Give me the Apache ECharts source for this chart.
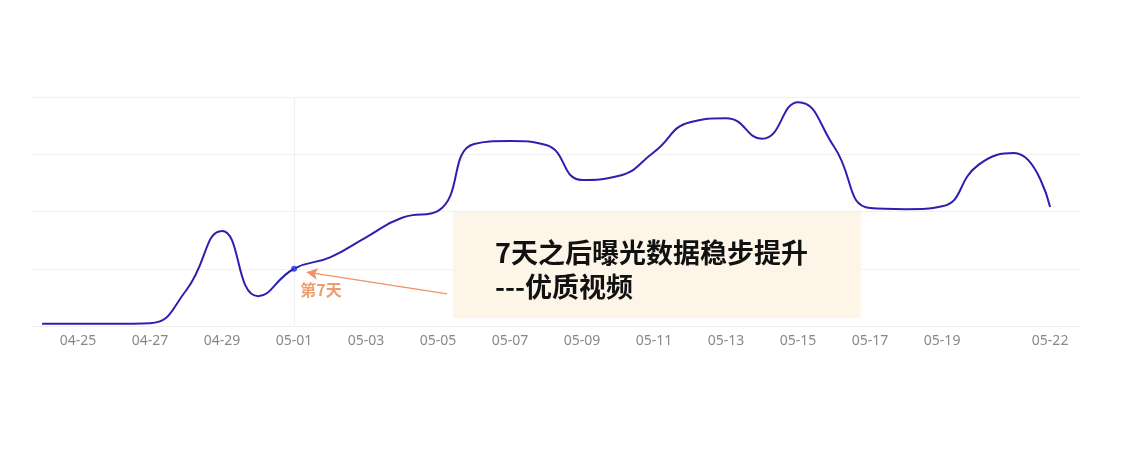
<!DOCTYPE html>
<html>
<head>
<meta charset="utf-8">
<script src="https://cdn.jsdelivr.net/npm/echarts@6/dist/echarts.min.js"></script>
<style>
  html, body { margin: 0; padding: 0; background: #fff; }
  #chart { width: 1128px; height: 451px; }
</style>
</head>
<body>
<div id="chart"></div>
<script>
// daily exposure, 04-24 .. 05-22
const days = ['04-24', '04-25', '04-26', '04-27', '04-28', '04-29', '04-30',
  '05-01', '05-02', '05-03', '05-04', '05-05', '05-06', '05-07', '05-08',
  '05-09', '05-10', '05-11', '05-12', '05-13', '05-14', '05-15', '05-16',
  '05-17', '05-18', '05-19', '05-20', '05-21', '05-22']
const values = [4, 4, 4, 5, 62, 166, 52,
  100, 120, 155, 189, 201, 318, 323, 316,
  255, 262, 304, 356, 363, 327, 391, 313,
  206, 204, 209, 281, 302, 208]
// which dates get a tick label
const shownLabels = ['04-25', '04-27', '04-29', '05-01', '05-03', '05-05', '05-07',
  '05-09', '05-11', '05-13', '05-15', '05-17', '05-19', '05-22']
const markDay = '05-01'
const markText = '第7天'
const noteLines = ['7天之后曝光数据稳步提升', '---优质视频']

const markIdx = days.indexOf(markDay)
const lineData = days.map((d, i) => [i, values[i]])

let chart = echarts.init(document.getElementById('chart'))
chart.setOption({
  animation: false,
  grid: { left: 32, right: 48, top: 97, bottom: 125 },
  xAxis: {
    type: 'value',
    min: -0.28,
    max: 28.83,
    splitLine: { show: false },
    axisTick: { show: false },
    axisLine: { show: true, lineStyle: { color: '#efefef' } },
    axisLabel: {
      customValues: shownLabels.map(d => days.indexOf(d)),
      formatter: v => days[Math.round(v)],
      color: '#888',
      fontSize: 14,
      margin: 8,
      fontFamily: 'Noto Sans'
    }
  },
  yAxis: {
    type: 'value',
    min: 0,
    max: 400,
    interval: 100,
    axisLabel: { show: false },
    axisLine: { show: false },
    axisTick: { show: false },
    splitLine: { lineStyle: { color: '#f1f1f1' } }
  },
  series: [
    {
      type: 'line',
      data: lineData,
      smooth: 0.5,
      showSymbol: false,
      lineStyle: { color: '#2d20b0', width: 2 },
      markLine: {
        silent: true,
        symbol: 'none',
        label: { show: false },
        lineStyle: { color: '#f0f0f0', type: 'solid', width: 1 },
        data: [{ xAxis: markIdx }]
      }
    },
    {
      type: 'scatter',
      data: [[markIdx, values[markIdx]]],
      symbolSize: 6,
      itemStyle: { color: '#1f2fd8' },
      z: 5,
      label: {
        show: true,
        formatter: markText,
        position: 'bottom',
        distance: 5,
        offset: [27, 5],
        color: '#e8864c',
        fontSize: 16,
        fontWeight: 'bold',
        fontFamily: 'Noto Sans CJK SC'
      },
      markLine: {
        silent: true,
        symbol: ['arrow', 'none'],
        symbolSize: [9, 11],
        label: { show: false },
        lineStyle: { color: '#ef9066', type: 'solid', width: 1.3 },
        data: [[{ coord: [markIdx + 0.35, 94] }, { coord: [markIdx + 4.25, 56] }]]
      }
    }
  ],
  graphic: [
    {
      type: 'rect',
      left: 453,
      top: 212,
      z: 100,
      shape: { width: 408, height: 106 },
      style: { fill: '#fdf6e8' }
    },
    {
      type: 'text',
      left: 495,
      top: 236,
      z: 101,
      style: {
        text: noteLines.join('\n'),
        fill: '#111',
        font: 'bold 27px "Noto Sans CJK SC"',
        lineHeight: 34
      }
    }
  ]
})
</script>
</body>
</html>
